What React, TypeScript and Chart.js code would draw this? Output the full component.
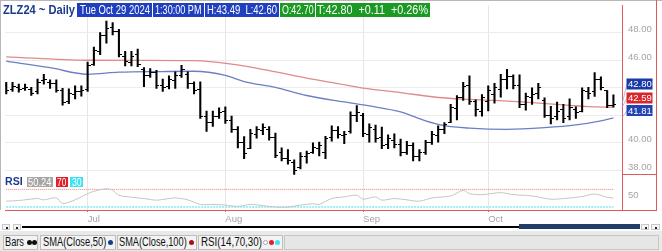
import React, { useEffect, useLayoutEffect, useRef } from 'react';
import { Chart, registerables } from 'chart.js';
Chart.register(...registerables);

// ---- data (ZLZ24 daily bars, Jun 11 .. Oct 29 2024) ----
const opens = [
  44.2, 43.9, 44.0, 43.95, 43.9, 43.7, 44.5, 44.4, 44.3, 43.8,
  43.0, 43.5, 43.7, 43.9, 45.7, 46.6, 47.8, 48.4, 48.1, 46.3,
  45.8, 46.4, 45.3, 44.9, 45.1, 44.2, 44.1, 44.5, 44.9, 45.0,
  44.3, 43.9, 41.9, 41.5, 41.9, 42.3, 41.6, 41.0, 40.0, 39.6,
  40.6, 40.9, 41.0, 40.4, 39.3, 38.9, 38.6, 38.2, 39.0, 39.3,
  39.6, 39.3, 40.4, 40.9, 40.5, 40.8, 42.0, 42.0, 40.6, 41.0,
  40.4, 39.9, 40.2, 39.9, 39.3, 39.8, 39.0, 39.3, 40.0, 40.5,
  41.0, 41.5, 42.5, 43.3, 44.2, 43.0, 42.3, 43.0, 43.5, 43.9,
  44.6, 44.8, 44.2, 42.8, 43.3, 43.6, 43.1, 42.0, 41.9, 42.4,
  41.9, 42.4, 42.3, 43.7, 43.7, 44.6, 43.8, 42.7,
];
const highs = [
  44.39, 44.39, 44.27, 44.27, 44.03, 44.63, 44.98, 44.58, 44.58, 43.96,
  43.92, 44.15, 44.15, 45.86, 46.95, 48.0, 48.85, 48.73, 48.24, 46.65,
  46.65, 46.81, 45.46, 45.39, 45.27, 44.63, 44.87, 45.15, 45.63, 45.15,
  44.44, 44.44, 42.3, 42.3, 42.54, 42.61, 41.94, 41.19, 40.45, 40.99,
  41.19, 41.38, 41.19, 40.71, 39.64, 39.52, 38.76, 39.29, 39.4, 40.0,
  40.05, 40.47, 41.23, 41.19, 40.83, 42.25, 42.7, 42.15, 41.38, 41.3,
  41.14, 40.59, 40.66, 40.28, 40.12, 40.0, 39.52, 40.19, 40.83, 41.23,
  41.47, 42.8, 43.44, 44.39, 44.87, 43.13, 43.51, 44.15, 44.32, 44.98,
  45.34, 44.94, 44.94, 43.61, 43.99, 44.32, 43.27, 42.66, 42.97, 42.8,
  43.2, 42.61, 43.99, 44.04, 45.1, 44.79, 43.8, 43.49,
];
const lows = [
  43.56, 43.73, 43.68, 43.8, 43.44, 43.56, 44.27, 43.96, 43.68, 42.73,
  42.85, 43.2, 43.39, 43.73, 45.63, 46.41, 47.24, 47.83, 46.24, 45.58,
  45.58, 45.53, 44.08, 44.75, 43.96, 43.73, 43.92, 43.96, 44.75, 43.96,
  43.56, 41.78, 40.83, 41.19, 41.78, 41.42, 40.76, 39.64, 38.86, 39.57,
  40.35, 40.59, 40.19, 38.93, 38.69, 38.45, 37.7, 38.1, 38.53, 39.24,
  39.05, 38.86, 40.12, 40.35, 39.95, 40.71, 41.54, 40.45, 40.05, 40.05,
  39.57, 39.57, 39.64, 39.05, 39.17, 38.69, 38.69, 39.17, 39.88, 40.05,
  40.66, 41.47, 41.66, 43.08, 42.8, 41.94, 41.94, 42.32, 42.89, 43.32,
  43.92, 43.92, 42.56, 42.37, 42.8, 43.2, 41.85, 41.38, 41.66, 41.47,
  41.66, 41.78, 42.25, 43.2, 43.37, 43.84, 42.56, 42.6,
];
const closes = [
  43.8, 44.1, 43.9, 44.05, 43.6, 44.4, 44.6, 44.3, 43.8, 42.9,
  43.6, 43.7, 43.8, 45.6, 46.7, 47.8, 48.3, 48.1, 46.4, 45.9,
  46.3, 45.7, 44.9, 45.1, 44.2, 44.0, 44.6, 44.9, 45.3, 44.3,
  43.8, 41.9, 41.5, 41.9, 42.2, 41.6, 41.0, 40.0, 39.2, 40.7,
  41.0, 41.1, 40.4, 39.1, 38.9, 38.7, 38.0, 39.0, 39.2, 39.7,
  39.8, 40.3, 40.9, 40.6, 40.6, 42.0, 42.2, 40.7, 41.1, 40.3,
  39.8, 40.3, 39.9, 39.3, 39.8, 39.0, 39.3, 40.0, 40.6, 41.0,
  41.3, 42.6, 43.3, 44.1, 43.0, 42.4, 43.3, 43.8, 44.0, 44.6,
  44.8, 44.2, 42.8, 43.4, 43.5, 44.0, 42.0, 41.8, 42.3, 41.8,
  42.6, 42.2, 43.8, 43.6, 44.6, 44.0, 42.69, 42.8,
];

const sma50Idx = [0, 7, 13, 18, 25, 30, 35, 38, 43, 48, 54, 58, 63, 67, 70, 74, 80, 86, 91, 95, 97];
const sma50Val = [45.93, 45.46, 44.98, 45.13, 45.18, 45.2, 44.9, 44.45, 44.03, 43.44, 42.97, 42.68, 42.25, 41.6, 41.25, 41.07, 40.98, 41.1, 41.3, 41.6, 41.81];

const sma100Idx = [0, 13, 22, 30, 36, 42, 48, 53, 57, 63, 68, 73, 78, 84, 90, 93, 97];
const sma100Val = [46.25, 46.0, 45.99, 45.97, 45.72, 45.25, 44.7, 44.3, 43.98, 43.65, 43.35, 43.17, 43.08, 42.92, 42.72, 42.63, 42.59];

const rsiIdx = [0, 2, 5, 6, 8, 9, 11, 13, 14, 16, 17, 18, 20, 22, 24, 26, 27, 29, 31, 33, 35, 37, 39, 41, 43, 45, 47, 49, 50, 52, 54, 56, 57, 59, 60, 62, 64, 66, 68, 71, 73, 74, 76, 79, 81, 84, 87, 89, 92, 94, 96, 97];
const rsiVal = [43.3, 44.8, 49.3, 46.3, 50.7, 38.1, 46.3, 60.4, 65.6, 71.5, 67.8, 56.7, 52.2, 49.3, 45.6, 49.3, 50.7, 46.3, 35.9, 35.9, 34.4, 31.5, 35.9, 33.0, 30.0, 30.0, 34.4, 37.4, 35.9, 49.3, 53.0, 56.7, 47.8, 53.0, 45.6, 49.3, 46.3, 43.3, 50.7, 55.2, 67.8, 60.4, 58.1, 62.6, 58.1, 55.2, 47.8, 49.3, 53.7, 59.6, 52.2, 50.24];
const rsiLevels = [70, 30];
const rsiTicks = [50];

const monthTickIdx = [13, 35, 57, 77];
const monthTickLabels = ['Jul', 'Aug', 'Sep', 'Oct'];
const priceTicks = [38, 40, 42, 44, 46, 48];

const FONT = '"Liberation Sans", Arial, sans-serif';

function tickImage(side: 'l' | 'r') {
  const c = document.createElement('canvas');
  c.width = 6;
  c.height = 1;
  const g = c.getContext('2d')!;
  g.fillStyle = '#000';
  if (side === 'l') g.fillRect(0, 0, 3, 1);
  else g.fillRect(3, 0, 3, 1);
  return c;
}

function noPad(s: any) {
  s.paddingTop = 0;
  s.paddingBottom = 0;
  s.paddingLeft = 0;
  s.paddingRight = 0;
}

const valueBoxPlugin = {
  id: 'valueBoxes',
  afterDraw(chart: any) {
    const ctx = chart.ctx;
    const ys = chart.scales.y;
    const right = chart.chartArea.right;
    const items = [
      { v: closes[closes.length - 1], c: '#1b3aa8', cy: 84 },
      { v: sma100Val[sma100Val.length - 1], c: '#d8262a', cy: 98 },
      { v: sma50Val[sma50Val.length - 1], c: '#2342b4', cy: 110.5 },
    ];
    ctx.save();
    items.forEach((it) => {
      const ny = ys.getPixelForValue(it.v);
      ctx.strokeStyle = 'rgba(150,160,210,0.7)';
      ctx.lineWidth = 1;
      ctx.beginPath();
      ctx.moveTo(right, ny);
      ctx.lineTo(right + 5, it.cy);
      ctx.stroke();
      ctx.fillStyle = it.c;
      ctx.fillRect(right + 4.5, it.cy - 5.5, 26, 11);
      ctx.fillStyle = '#fff';
      ctx.font = '9.5px ' + FONT;
      ctx.textBaseline = 'middle';
      ctx.textAlign = 'left';
      ctx.fillText(it.v.toFixed(2), right + 6, it.cy + 0.5);
    });
    ctx.restore();
  },
};

function Fit({ text, w, style }: { text: string; w: number; style?: any }) {
  const ref = useRef<HTMLSpanElement>(null);
  useLayoutEffect(() => {
    const el = ref.current;
    if (!el) return;
    el.style.transform = 'none';
    const nat = el.getBoundingClientRect().width;
    if (nat > 0) el.style.transform = `scaleX(${w / nat})`;
  }, [text, w]);
  return (
    <span ref={ref} style={{ display: 'inline-block', whiteSpace: 'pre', transformOrigin: 'left center', ...style }}>
      {text}
    </span>
  );
}

function Box({ x, y, w, h, bg, text, tx, tw, color = '#fff', size = 12, bold = false }: any) {
  return (
    <div style={{ position: 'absolute', left: x, top: y, width: w, height: h, background: bg, overflow: 'hidden' }}>
      <div style={{ position: 'absolute', left: tx, top: 0, height: h, lineHeight: h + 'px', fontSize: size, color, fontWeight: bold ? 'bold' : 'normal' }}>
        <Fit text={text} w={tw} />
      </div>
    </div>
  );
}

function Dot({ x, y, c, hollow = false }: any) {
  return (
    <div style={{ position: 'absolute', left: x, top: y, width: 5, height: 5, borderRadius: '50%', background: hollow ? '#fff' : c, border: hollow ? '1px solid ' + c : 'none', boxSizing: 'border-box' }} />
  );
}

export default function App() {
  const ref = useRef<HTMLCanvasElement>(null);
  useEffect(() => {
    document.body.style.margin = '0';
    const canvas = ref.current!;
    const openImg = tickImage('l');
    const closeImg = tickImage('r');
    const idx = closes.map((_, i) => i);
    const chart = new Chart(canvas, {
      type: 'bar',
      data: {
        datasets: [
          {
            type: 'line',
            data: idx.map((i) => ({ x: i, y: opens[i] })),
            showLine: false,
            pointStyle: openImg as any,
            pointRadius: 3,
            yAxisID: 'y',
          } as any,
          {
            type: 'line',
            data: idx.map((i) => ({ x: i, y: closes[i] })),
            showLine: false,
            pointStyle: closeImg as any,
            pointRadius: 3,
            yAxisID: 'y',
          } as any,
          {
            type: 'bar',
            data: idx.map((i) => ({ x: i, y: [lows[i], highs[i]] })),
            backgroundColor: '#000',
            barThickness: 1.4,
            yAxisID: 'y',
          } as any,
          {
            type: 'line',
            data: sma100Idx.map((v, i) => ({ x: v, y: sma100Val[i] })),
            borderColor: '#e08a8a',
            borderWidth: 1.3,
            pointRadius: 0,
            cubicInterpolationMode: 'monotone',
            yAxisID: 'y',
          } as any,
          {
            type: 'line',
            data: sma50Idx.map((v, i) => ({ x: v, y: sma50Val[i] })),
            borderColor: '#6a80c4',
            borderWidth: 1.3,
            pointRadius: 0,
            cubicInterpolationMode: 'monotone',
            yAxisID: 'y',
          } as any,
          {
            type: 'line',
            data: rsiIdx.map((v, i) => ({ x: v, y: rsiVal[i] })),
            borderColor: '#c4c4c4',
            borderWidth: 1,
            pointRadius: 0,
            tension: 0.3,
            yAxisID: 'yRsi',
          } as any,
          {
            type: 'line',
            data: [{ x: 0, y: rsiLevels[0] }, { x: closes.length - 1, y: rsiLevels[0] }],
            borderColor: '#f07a7a',
            borderWidth: 1,
            borderDash: [1, 1],
            pointRadius: 0,
            yAxisID: 'yRsi',
          } as any,
          {
            type: 'line',
            data: [{ x: 0, y: rsiLevels[1] }, { x: closes.length - 1, y: rsiLevels[1] }],
            borderColor: '#9eeef6',
            borderWidth: 2,
            borderDash: [2, 1],
            pointRadius: 0,
            yAxisID: 'yRsi',
          } as any,
        ],
      },
      options: {
        responsive: false,
        animation: false,
        events: [],
        layout: { padding: { left: 1, top: 1, right: 0, bottom: 0 } },
        plugins: { legend: { display: false }, tooltip: { enabled: false } },
        scales: {
          x: {
            type: 'linear',
            min: -0.2,
            max: 98.37,
            offset: false,
            grid: { color: '#e6e6e6', tickColor: '#e05a5a', tickLength: 2, drawTicks: true, offset: false },
            border: { color: '#e05a5a' },
            ticks: {
              align: 'start',
              color: '#a4a4a4',
              font: { size: 9.5, family: FONT },
              padding: 2,
              maxRotation: 0,
              autoSkip: false,
              callback: (v: any) => {
                const k = monthTickIdx.indexOf(Number(v));
                return k >= 0 ? monthTickLabels[k] : '';
              },
            },
            afterBuildTicks: (s: any) => {
              s.ticks = monthTickIdx.map((v) => ({ value: v }));
            },
            afterFit: (s: any) => {
              s.height = 41;
              noPad(s);
            },
          },
          y: {
            type: 'linear',
            position: 'right',
            stack: 'pane',
            stackWeight: 173,
            min: 37.69,
            max: 50.01,
            grid: { color: '#ececec', drawTicks: false },
            border: { color: '#e05a5a' },
            ticks: {
              color: '#a4a4a4',
              padding: 6,
              labelOffset: -3,
              font: { size: 9.5, family: FONT },
              callback: (v: any) => Number(v).toFixed(2),
            },
            afterBuildTicks: (s: any) => {
              s.ticks = priceTicks.map((v) => ({ value: v }));
            },
            afterFit: (s: any) => {
              s.width = 40;
              noPad(s);
            },
          },
          yRsi: {
            type: 'linear',
            position: 'right',
            stack: 'pane',
            stackWeight: 36,
            min: 23.3,
            max: 103.3,
            grid: { drawOnChartArea: false, drawTicks: false },
            border: { color: '#e05a5a' },
            ticks: {
              color: '#a4a4a4',
              padding: 6,
              labelOffset: -3,
              font: { size: 9.5, family: FONT },
              callback: (v: any) => String(v),
            },
            afterBuildTicks: (s: any) => {
              s.ticks = rsiTicks.map((v) => ({ value: v }));
            },
            afterFit: (s: any) => {
              s.width = 40;
              noPad(s);
            },
          },
        },
      } as any,
      plugins: [valueBoxPlugin],
    });
    return () => chart.destroy();
  }, []);

  const blue = '#1f3fbf';
  const green = '#1a9a22';
  const navy = '#1c3a8c';
  return (
    <div style={{ position: 'relative', width: 662, height: 251, overflow: 'hidden', background: '#fff', fontFamily: FONT }}>
      <canvas ref={ref} width={662} height={251} style={{ position: 'absolute', left: 0, top: 0 }} />
      {/* frame lines */}
      <div style={{ position: 'absolute', left: 0, top: 0, width: 662, height: 1, background: '#b8b8b8' }} />
      <div style={{ position: 'absolute', left: 0, top: 0, width: 1, height: 210, background: '#b8b8b8' }} />
      <div style={{ position: 'absolute', left: 656, top: 0, width: 1, height: 211, background: '#e05a5a' }} />
      <div style={{ position: 'absolute', left: 622, top: 174, width: 35, height: 1, background: '#e05a5a' }} />
      <div style={{ position: 'absolute', left: 622, top: 210, width: 35, height: 1, background: '#e05a5a' }} />

      {/* header */}
      <div style={{ position: 'absolute', left: 3, top: 3, height: 14, lineHeight: '14px', fontSize: 12, fontWeight: 'bold', color: navy }}>
        <Fit text="ZLZ24 ~ Daily" w={72} />
      </div>
      <Box x={77} y={3} w={75} h={14} bg={blue} text="Tue Oct 29 2024" tx={2.5} tw={70} />
      <Box x={153} y={3} w={50.5} h={14} bg={blue} text="1:30:00 PM" tx={2} tw={46.5} />
      <Box x={205} y={3} w={73.5} h={14} bg={blue} text="H:43.49  L:42.60" tx={1.7} tw={70} />
      <Box x={280} y={3} w={35} h={14} bg={green} text="O:42.70" tx={1.7} tw={31.6} />
      <Box x={316} y={3} w={113.5} h={14} bg={green} text="T:42.80  +0.11  +0.26%" tx={1} tw={111} />

      {/* RSI row */}
      <div style={{ position: 'absolute', left: 5, top: 176, height: 11, lineHeight: '11px', fontSize: 11, fontWeight: 'bold', color: navy }}>
        <Fit text="RSI" w={17.7} />
      </div>
      <Box x={26.7} y={176.7} w={26} h={10} bg="#a6a6a6" text="50.24" tx={1.3} tw={23.4} size={11} />
      <Box x={56} y={176.7} w={11.7} h={10} bg="#e3202a" text="70" tx={1.2} tw={9.3} size={11} />
      <Box x={70} y={176.7} w={13.3} h={10} bg="#3fe2f2" text="30" tx={1.8} tw={9.7} size={11} />

      {/* scrollbar */}
      <div style={{ position: 'absolute', left: 2, top: 224, width: 8, height: 6, border: '1px solid #c8c8c8', background: '#f6f6f6', boxSizing: 'border-box' }}>
        <div style={{ position: 'absolute', left: 2.5, top: 1.5, width: 2, height: 2, background: '#222' }} />
      </div>
      <div style={{ position: 'absolute', left: 12.7, top: 224, width: 8, height: 6, border: '1px solid #c8c8c8', background: '#f6f6f6', boxSizing: 'border-box' }}>
        <div style={{ position: 'absolute', left: 2.5, top: 1.5, width: 2, height: 2, background: '#222' }} />
      </div>
      <div style={{ position: 'absolute', left: 21.7, top: 225.7, width: 498, height: 2.6, background: '#000' }} />
      <div style={{ position: 'absolute', left: 519, top: 224.3, width: 121, height: 5, background: '#1f3d66' }} />
      <div style={{ position: 'absolute', left: 641, top: 224, width: 8, height: 6, border: '1px solid #c8c8c8', background: '#f6f6f6', boxSizing: 'border-box' }}>
        <div style={{ position: 'absolute', left: 2.5, top: 1.5, width: 2, height: 2, background: '#222' }} />
      </div>
      <div style={{ position: 'absolute', left: 651, top: 224, width: 9, height: 6, border: '1px solid #c8c8c8', background: '#f6f6f6', boxSizing: 'border-box' }}>
        <div style={{ position: 'absolute', left: 2.5, top: 1.5, width: 2, height: 2, background: '#222' }} />
      </div>

      {/* legend bar */}
      <div style={{ position: 'absolute', left: 0, top: 231, width: 662, height: 20, background: '#e9e9e9' }} />
      {[
        [2.7, 35.6],
        [40, 75.7],
        [116.7, 80.6],
        [198.3, 84.4],
      ].map(([x, w], i) => (
        <div key={i} style={{ position: 'absolute', left: x, top: 234.5, width: w, height: 15.5, background: '#f3f3f3', border: '1px solid #bdbdbd', boxSizing: 'border-box' }} />
      ))}
      <div style={{ position: 'absolute', left: 283.5, top: 234.5, width: 375, height: 15.5, background: '#e6e6e6', border: '1px solid #c6c6c6', boxSizing: 'border-box' }} />
      <div style={{ position: 'absolute', left: 5, top: 235, height: 15, lineHeight: '15px', fontSize: 12, color: '#111' }}>
        <Fit text="Bars" w={19} />
      </div>
      <Dot x={27} y={240} c="#111" />
      <Dot x={31.5} y={240} c="#111" />
      <div style={{ position: 'absolute', left: 42.7, top: 235, height: 15, lineHeight: '15px', fontSize: 12, color: '#111' }}>
        <Fit text="SMA(Close,50)" w={63.3} />
      </div>
      <Dot x={108.3} y={240} c="#1c3a8c" />
      <div style={{ position: 'absolute', left: 119, top: 235, height: 15, lineHeight: '15px', fontSize: 12, color: '#111' }}>
        <Fit text="SMA(Close,100)" w={67.7} />
      </div>
      <Dot x={189.3} y={240} c="#a4121a" />
      <div style={{ position: 'absolute', left: 200.7, top: 235, height: 15, lineHeight: '15px', fontSize: 12, color: '#111' }}>
        <Fit text="RSI(14,70,30)" w={61} />
      </div>
      <Dot x={263.3} y={240} c="#aaaaaa" hollow />
      <Dot x={269.3} y={240} c="#e3202a" />
      <Dot x={275.3} y={240} c="#3fe2f2" />
    </div>
  );
}
